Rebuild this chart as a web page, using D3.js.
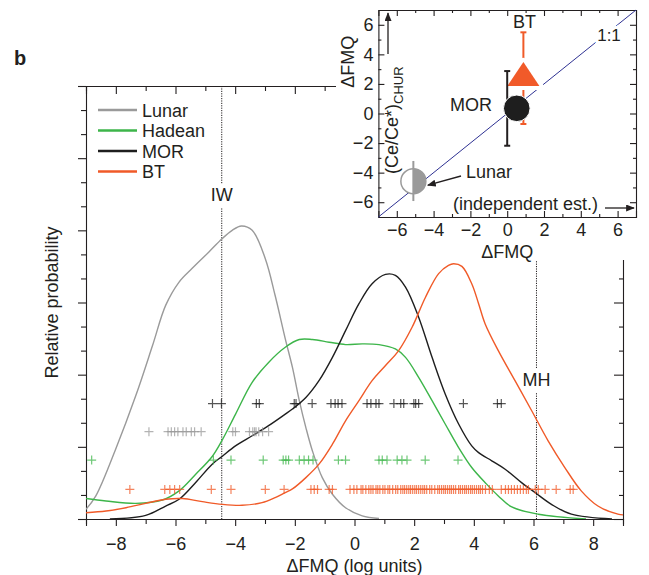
<!DOCTYPE html>
<html>
<head>
<meta charset="utf-8">
<script src="https://cdn.jsdelivr.net/npm/d3@7"></script>
<style>
body { margin: 0; background: #fff; }
svg { display: block; font-family: "Liberation Sans", Arial, sans-serif; }
.axis text { font-size: 18px; fill: #231f20; }
.axis path, .axis line { stroke: #231f20; stroke-width: 1.1; }
</style>
</head>
<body>
<svg width="649" height="575"></svg>
<script>
// density curves, [dFMQ, relative probability]
var lunarCurve = [[-9,0.4],[-8.67,0.96],[-8,2.92],[-7.33,5.13],[-6.77,7.21],[-6.33,8.88],[-5.88,9.85],[-5.44,10.42],[-4.88,11.1],[-4.44,11.65],[-4.1,12.0],[-3.79,12.18],[-3.43,12.0],[-2.99,10.82],[-2.66,9.29],[-2.32,7.49],[-2.08,6.3],[-1.85,4.92],[-1.63,3.8],[-1.41,2.83],[-1.08,1.72],[-0.74,1.03],[-0.3,0.47],[0.26,0.13],[0.82,0.02]];
var hadeanCurve = [[-9,0.85],[-8.33,0.75],[-7.33,0.65],[-6.44,0.79],[-5.88,1.17],[-5.33,1.85],[-4.77,2.6],[-4.44,3.27],[-3.99,4.35],[-3.43,5.68],[-2.88,6.51],[-2.32,7.14],[-1.85,7.46],[-1.41,7.46],[-0.85,7.35],[-0.3,7.25],[0.26,7.28],[0.82,7.25],[1.37,7.07],[1.71,6.72],[2.15,5.89],[2.6,4.92],[3.04,3.95],[3.49,2.97],[3.93,2.14],[4.42,1.46],[4.82,0.96],[5.27,0.5],[6.16,0.2],[7.76,0.0]];
var morCurve = [[-8.2,0.0],[-7.0,0.15],[-6.33,0.54],[-5.88,0.82],[-5.33,1.51],[-4.77,2.28],[-4.44,2.6],[-3.99,3.04],[-3.43,3.46],[-2.88,3.88],[-2.32,4.36],[-2.08,4.57],[-1.63,5.05],[-1.19,5.75],[-0.74,6.72],[-0.3,7.83],[0.15,8.95],[0.59,9.78],[1.04,10.17],[1.37,10.13],[1.71,9.64],[2.15,8.39],[2.6,6.72],[3.04,5.2],[3.49,3.95],[3.93,3.04],[4.16,2.76],[4.6,2.42],[5.05,2.07],[5.6,1.51],[6.05,1.1],[6.6,0.61],[7.27,0.2],[8.63,0.0]];
var btCurve = [[-9,0.26],[-8.33,0.33],[-7.66,0.47],[-7.0,0.65],[-6.33,0.82],[-5.77,0.85],[-5.1,0.72],[-4.44,0.61],[-3.77,0.57],[-3.1,0.68],[-2.66,0.89],[-2.32,1.1],[-2.08,1.25],[-1.63,1.72],[-1.19,2.28],[-0.74,3.11],[-0.3,4.08],[0.15,4.92],[0.59,5.75],[1.04,6.38],[1.48,7.0],[1.93,7.97],[2.38,9.22],[2.82,10.2],[3.15,10.54],[3.32,10.61],[3.6,10.5],[3.93,9.78],[4.16,8.95],[4.38,8.11],[4.82,7.0],[5.38,5.75],[5.94,4.5],[6.49,3.25],[7.05,2.14],[7.6,1.17],[8.16,0.54],[8.83,0.2],[9,0.17]];

// individual estimates (rug of + marks)
var morRug = [-4.76,-4.46,-3.29,-3.19,-2.02,-1.96,-1.42,-0.79,-0.65,-0.55,-0.42,0.42,0.55,0.72,0.82,1.32,1.55,1.65,1.99,2.05,2.15,3.65,4.79,4.92];
var lunarRug = [-6.89,-6.25,-6.14,-6.03,-5.92,-5.75,-5.64,-5.47,-5.36,-5.14,-4.08,-3.99,-3.52,-3.41,-3.35,-3.3,-3.21,-3.08,-2.88];
var hadeanRug = [-8.81,-4.73,-4.14,-3.06,-2.39,-2.3,-2.21,-1.85,-1.69,-1.54,-1.39,-0.54,-0.3,0.82,0.93,1.09,1.43,1.59,1.76,2.37,3.47];
var btRug = [-7.53,-6.36,-6.19,-6.03,-5.86,-4.8,-4.14,-2.99,-2.36,-1.46,-1.35,-1.24,-0.85,-0.74,
  -0.15,-0.02,0.08,0.22,0.28,0.38,0.48,0.55,0.62,0.72,0.78,0.85,0.95,1.02,1.12,1.18,1.28,1.38,1.45,1.55,1.62,1.68,1.75,1.82,1.88,1.95,
  2.02,2.08,2.15,2.22,2.29,2.35,2.42,2.52,2.59,2.69,2.79,2.85,2.92,2.99,3.05,3.12,3.19,3.25,3.32,3.39,3.49,3.55,3.62,3.69,3.75,3.82,3.89,3.95,
  4.02,4.09,4.16,4.22,4.29,4.39,4.52,4.62,4.92,5.06,5.16,5.26,5.36,5.46,5.56,5.66,5.76,5.83,6.06,6.16,6.39,6.76,7.23,7.33];
var rugLevel = [4.8, 3.63, 2.45, 1.23]; // MOR, Lunar, Hadean, BT

var seriesNames = ["Lunar", "Hadean", "MOR", "BT"];
var seriesColors = ["#9a9a9a", "#3db54a", "#1e1e1e", "#f05a28"];

var bufferIW = -4.45, bufferMH = 6.1;

// inset: Ce anomaly vs independent estimate
var insetNames = ["Lunar", "MOR", "BT"];
var insetCx = [-5.1, 0.52, 0.88];
var insetCy = [-4.58, 0.35, 2.4];
var insetBarX = [-5.1, 0, 0.88];
var insetBarLo = [-5.92, -2.18, -0.71];
var insetBarHi = [-3.21, 2.87, 5.49];

var fmt = function(d) { return d < 0 ? "\u2212" + Math.abs(d) : String(d); };

var svg = d3.select("svg");

var x = d3.scaleLinear().domain([-9, 9]).range([86, 623]);
var y = d3.scaleLinear().domain([0, 18]).range([519, 86]);

svg.append("defs").append("clipPath").attr("id", "plotclip")
  .append("rect").attr("x", 86).attr("y", 86).attr("width", 537).attr("height", 433);

svg.append("marker").attr("id", "arrow")
  .attr("viewBox", "0 0 10 8").attr("refX", 9).attr("refY", 4)
  .attr("markerWidth", 9).attr("markerHeight", 7).attr("markerUnits", "userSpaceOnUse")
  .attr("orient", "auto")
  .append("path").attr("d", "M0,0L10,4L0,8z").attr("fill", "#231f20");

var evens = d3.range(-8, 9, 2), odds = d3.range(-9, 10, 2);
var yMajor = d3.range(0, 19, 3), yMinor = d3.range(0, 19).filter(function(d) { return d % 3 !== 0; });

// bottom axis
svg.append("g").attr("class", "axis").attr("transform", "translate(0,519)")
  .call(d3.axisBottom(x).tickValues(evens).tickSize(7).tickPadding(11).tickFormat(fmt));
svg.append("g").attr("class", "axis").attr("transform", "translate(0,519)")
  .call(d3.axisBottom(x).tickValues(odds).tickSize(5).tickFormat(""))
  .select(".domain").remove();

// top axis (ticks inward)
svg.append("g").attr("class", "axis").attr("transform", "translate(0,86)")
  .call(d3.axisBottom(x).tickValues(evens).tickSize(8).tickFormat(""));
svg.append("g").attr("class", "axis").attr("transform", "translate(0,86)")
  .call(d3.axisBottom(x).tickValues(odds).tickSize(5).tickFormat(""))
  .select(".domain").remove();

// left axis
svg.append("g").attr("class", "axis").attr("transform", "translate(86,0)")
  .call(d3.axisLeft(y).tickValues(yMajor).tickSize(8).tickFormat(""));
svg.append("g").attr("class", "axis").attr("transform", "translate(86,0)")
  .call(d3.axisLeft(y).tickValues(yMinor).tickSize(5).tickFormat(""))
  .select(".domain").remove();

// right axis (ticks inward)
svg.append("g").attr("class", "axis").attr("transform", "translate(623,0)")
  .call(d3.axisLeft(y).tickValues(yMajor).tickSize(9).tickFormat(""));
svg.append("g").attr("class", "axis").attr("transform", "translate(623,0)")
  .call(d3.axisLeft(y).tickValues(yMinor).tickSize(4).tickFormat(""))
  .select(".domain").remove();
svg.selectAll(".axis .domain").attr("stroke-width", 1.4);

// buffer lines
[bufferIW, bufferMH].forEach(function(b) {
  svg.append("line")
    .attr("x1", x(b)).attr("x2", x(b)).attr("y1", y(18)).attr("y2", y(0))
    .attr("stroke", "#231f20").attr("stroke-width", 1).attr("stroke-dasharray", "1.2,1.2");
});
svg.append("rect").attr("x", x(bufferIW) - 11).attr("y", 184).attr("width", 22).attr("height", 24).attr("fill", "#fff");
svg.append("text").attr("x", x(bufferIW)).attr("y", 201).attr("text-anchor", "middle")
  .attr("font-size", 18).attr("fill", "#231f20").text("IW");
svg.append("rect").attr("x", x(bufferMH) - 15).attr("y", 369).attr("width", 30).attr("height", 23).attr("fill", "#fff");
svg.append("text").attr("x", x(bufferMH)).attr("y", 386).attr("text-anchor", "middle")
  .attr("font-size", 18).attr("fill", "#231f20").text("MH");

// curves
var line = d3.line()
  .x(function(d) { return x(d[0]); })
  .y(function(d) { return y(d[1]); })
  .curve(d3.curveCatmullRom.alpha(0.5));

var curves = [lunarCurve, hadeanCurve, morCurve, btCurve];
var plot = svg.append("g").attr("clip-path", "url(#plotclip)");
curves.forEach(function(c, i) {
  plot.append("path").datum(c)
    .attr("fill", "none").attr("stroke", seriesColors[i]).attr("stroke-width", 1.4)
    .attr("d", line);
});

// rugs
var rugs = [morRug, lunarRug, hadeanRug, btRug];
var rugColors = [seriesColors[2], seriesColors[0], seriesColors[1], seriesColors[3]];
rugs.forEach(function(r, i) {
  plot.append("g").selectAll("path").data(r).enter().append("path")
    .attr("transform", function(d) { return "translate(" + x(d) + "," + y(rugLevel[i]) + ")"; })
    .attr("d", "M-4.5,0H4.5M0,-4.5V4.5")
    .attr("stroke", rugColors[i]).attr("stroke-width", 1.2).attr("stroke-opacity", 0.75);
});

// legend
var legend = svg.append("g");
seriesNames.forEach(function(n, i) {
  var ly = 110 + i * 20.5;
  legend.append("line").attr("x1", 98).attr("x2", 137).attr("y1", ly).attr("y2", ly)
    .attr("stroke", seriesColors[i]).attr("stroke-width", 2.5);
  legend.append("text").attr("x", 142).attr("y", ly + 6.5)
    .attr("font-size", 18).attr("fill", "#231f20").text(n);
});

// axis titles
svg.append("text").attr("x", (x(-9) + x(9)) / 2).attr("y", 572).attr("text-anchor", "middle")
  .attr("font-size", 18).attr("fill", "#231f20").text("\u0394FMQ (log units)");
svg.append("text").attr("transform", "translate(58," + ((y(0) + y(18)) / 2) + ") rotate(-90)")
  .attr("text-anchor", "middle").attr("font-size", 18).attr("fill", "#231f20").text("Relative probability");
svg.append("text").attr("x", 14).attr("y", 65).attr("font-size", 20).attr("font-weight", "bold")
  .attr("fill", "#231f20").text("b");

// ---------- inset ----------
var ix = d3.scaleLinear().domain([-7, 7]).range([378.4, 636]);
var iy = d3.scaleLinear().domain([-7, 7]).range([217, 10]);
var inset = svg.append("g");
inset.append("rect").attr("x", 336).attr("y", 0).attr("width", 313).attr("height", 260).attr("fill", "#fff");

var iEven = d3.range(-6, 7, 2), iOdd = d3.range(-5, 6, 2);
inset.append("g").attr("class", "axis").attr("transform", "translate(0,217)")
  .call(d3.axisBottom(ix).tickValues(iEven).tickSize(-6).tickPadding(6).tickFormat(fmt));
inset.append("g").attr("class", "axis").attr("transform", "translate(0,217)")
  .call(d3.axisBottom(ix).tickValues(iOdd).tickSize(-3).tickFormat("")).select(".domain").remove();
inset.append("g").attr("class", "axis").attr("transform", "translate(378.4,0)")
  .call(d3.axisLeft(iy).tickValues(iEven).tickSize(-6).tickPadding(5).tickFormat(fmt));
inset.append("g").attr("class", "axis").attr("transform", "translate(378.4,0)")
  .call(d3.axisLeft(iy).tickValues(iOdd).tickSize(-3).tickFormat("")).select(".domain").remove();
inset.append("g").attr("class", "axis").attr("transform", "translate(0,10)")
  .call(d3.axisTop(ix).tickValues(iEven).tickSize(-6).tickFormat(""));
inset.append("g").attr("class", "axis").attr("transform", "translate(0,10)")
  .call(d3.axisTop(ix).tickValues(iOdd).tickSize(-3).tickFormat("")).select(".domain").remove();
inset.append("g").attr("class", "axis").attr("transform", "translate(636,0)")
  .call(d3.axisRight(iy).tickValues(iEven).tickSize(-6).tickFormat(""));
inset.append("g").attr("class", "axis").attr("transform", "translate(636,0)")
  .call(d3.axisRight(iy).tickValues(iOdd).tickSize(-3).tickFormat("")).select(".domain").remove();
inset.selectAll(".axis .domain").attr("stroke-width", 1.2);

// 1:1 line
inset.append("line").attr("x1", ix(-7)).attr("y1", iy(-7)).attr("x2", ix(7)).attr("y2", iy(7))
  .attr("stroke", "#2e3192").attr("stroke-width", 1);
inset.append("text").attr("x", 609).attr("y", 41).attr("text-anchor", "middle")
  .attr("font-size", 17).attr("fill", "#231f20")
  .attr("stroke", "#fff").attr("stroke-width", 6).attr("paint-order", "stroke").text("1:1");

// inset labels and arrows
inset.append("text").attr("x", ix(0)).attr("y", 258).attr("text-anchor", "middle")
  .attr("font-size", 18).attr("fill", "#231f20").text("\u0394FMQ");
inset.append("text").attr("transform", "translate(354," + iy(3.5) + ") rotate(-90)")
  .attr("text-anchor", "middle").attr("font-size", 18).attr("fill", "#231f20").text("\u0394FMQ");
var ce = inset.append("text").attr("transform", "translate(398,174) rotate(-90)")
  .attr("font-size", 18).attr("fill", "#231f20");
ce.append("tspan").text("(Ce/Ce*)");
ce.append("tspan").attr("font-size", 13).attr("dy", 5).text("CHUR");
inset.append("line").attr("x1", 388).attr("x2", 388).attr("y1", 54).attr("y2", 13)
  .attr("stroke", "#231f20").attr("stroke-width", 1.3).attr("marker-end", "url(#arrow)");
inset.append("text").attr("x", 453).attr("y", 210).attr("font-size", 18).attr("fill", "#231f20")
  .text("(independent est.)");
inset.append("line").attr("x1", 605).attr("x2", 634).attr("y1", 208).attr("y2", 208)
  .attr("stroke", "#231f20").attr("stroke-width", 1.3).attr("marker-end", "url(#arrow)");

// BT: error bar, triangle
inset.append("line").attr("x1", ix(insetBarX[2])).attr("x2", ix(insetBarX[2]))
  .attr("y1", iy(insetBarLo[2])).attr("y2", iy(insetBarHi[2]))
  .attr("stroke", "#f05a28").attr("stroke-width", 2);
[insetBarLo[2], insetBarHi[2]].forEach(function(v) {
  inset.append("line").attr("x1", ix(insetBarX[2]) - 3).attr("x2", ix(insetBarX[2]) + 3)
    .attr("y1", iy(v)).attr("y2", iy(v)).attr("stroke", "#f05a28").attr("stroke-width", 2);
});
var tx = ix(insetCx[2]), ty = iy(insetCy[2]);
inset.append("path")
  .attr("d", "M" + tx + "," + (ty - 16) + "L" + (tx + 16) + "," + (ty + 8) + "L" + (tx - 16) + "," + (ty + 8) + "Z")
  .attr("fill", "#f15a29").attr("stroke", "#fff").attr("stroke-width", 8)
  .attr("stroke-linejoin", "round").attr("paint-order", "stroke");

// MOR: error bar, circle
inset.append("line").attr("x1", ix(insetBarX[1])).attr("x2", ix(insetBarX[1]))
  .attr("y1", iy(insetBarLo[1])).attr("y2", iy(insetBarHi[1]))
  .attr("stroke", "#231f20").attr("stroke-width", 2);
[insetBarLo[1], insetBarHi[1]].forEach(function(v) {
  inset.append("line").attr("x1", ix(insetBarX[1]) - 3).attr("x2", ix(insetBarX[1]) + 3)
    .attr("y1", iy(v)).attr("y2", iy(v)).attr("stroke", "#231f20").attr("stroke-width", 2);
});
inset.append("circle").attr("cx", ix(insetCx[1])).attr("cy", iy(insetCy[1])).attr("r", 13.3)
  .attr("fill", "#1e1e1e").attr("stroke", "#fff").attr("stroke-width", 1);

// Lunar: half-filled circle with bar
var lx = ix(insetCx[0]), ly = iy(insetCy[0]), lr = 12.5;
inset.append("circle").attr("cx", lx).attr("cy", ly).attr("r", lr)
  .attr("fill", "#fff").attr("stroke", "#9a9a9a").attr("stroke-width", 1.5);
inset.append("path")
  .attr("d", "M" + lx + "," + (ly - lr) + "A" + lr + "," + lr + " 0 0,1 " + lx + "," + (ly + lr) + "Z")
  .attr("fill", "#9a9a9a");
inset.append("line").attr("x1", ix(insetBarX[0])).attr("x2", ix(insetBarX[0]))
  .attr("y1", iy(insetBarLo[0])).attr("y2", iy(insetBarHi[0]))
  .attr("stroke", "#9a9a9a").attr("stroke-width", 2);

// point labels
inset.append("text").attr("x", 513).attr("y", 28).attr("font-size", 18).attr("fill", "#231f20").text(insetNames[2]);
inset.append("text").attr("x", 492).attr("y", 111).attr("text-anchor", "end").attr("font-size", 18).attr("fill", "#231f20").text(insetNames[1]);
inset.append("text").attr("x", 466).attr("y", 178).attr("font-size", 18).attr("fill", "#231f20").text(insetNames[0]);
inset.append("line").attr("x1", 461).attr("y1", 176).attr("x2", lx + lr + 2).attr("y2", ly + 4)
  .attr("stroke", "#231f20").attr("stroke-width", 1.3).attr("marker-end", "url(#arrow)");
</script>
</body>
</html>
